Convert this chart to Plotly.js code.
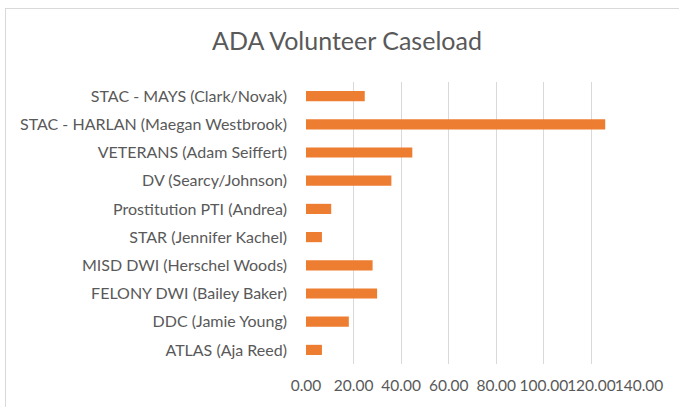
<!DOCTYPE html>
<html>
<head>
<meta charset="utf-8">
<script src="https://cdn.plot.ly/plotly-3.0.1.min.js"></script>
<style>
html,body{margin:0;padding:0;background:#fff;overflow:hidden;}
#frame{position:absolute;left:5px;top:8px;width:700px;height:420px;border:1px solid #d9d9d9;box-sizing:border-box;}
#chart{position:absolute;left:0;top:0;width:679px;height:407px;}
</style>
</head>
<body>
<div id="frame"></div>
<div id="chart"></div>
<script>
const categories = [
  "STAC - MAYS (Clark/Novak)",
  "STAC - HARLAN (Maegan Westbrook)",
  "VETERANS (Adam Seiffert)",
  "DV (Searcy/Johnson)",
  "Prostitution PTI (Andrea)",
  "STAR (Jennifer Kachel)",
  "MISD DWI (Herschel Woods)",
  "FELONY DWI (Bailey Baker)",
  "DDC (Jamie Young)",
  "ATLAS (Aja Reed)"
];
const caseload = [24.7, 125.8, 44.7, 35.9, 10.6, 6.7, 28, 29.9, 18, 6.7];
const tickValues = [0, 20, 40, 60, 80, 100, 120, 140];

const trace = {
  type: 'bar',
  orientation: 'h',
  x: caseload,
  y: categories,
  marker: {color: '#ED7D31'},
  hoverinfo: 'x+y'
};

const FONT = 'Lato, "Open Sans", sans-serif';

const layout = {
  width: 679,
  height: 407,
  paper_bgcolor: 'rgba(0,0,0,0)',
  plot_bgcolor: 'rgba(0,0,0,0)',
  margin: {l: 306, r: 40, t: 82, b: 43},
  title: {
    text: 'ADA Volunteer Caseload',
    font: {family: FONT, size: 25, color: '#595959'},
    xref: 'container', x: 347/679, xanchor: 'center',
    yref: 'container', y: 1 - 41/407, yanchor: 'middle'
  },
  bargap: 0.64,
  showlegend: false,
  xaxis: {
    range: [0, 140],
    tickvals: tickValues,
    ticktext: tickValues.map(v => v.toFixed(2)),
    tickangle: 0,
    showgrid: true,
    gridcolor: '#d9d9d9',
    gridwidth: 1,
    zeroline: false,
    showline: false,
    ticks: '',
    ticklabelstandoff: 10,
    tickfont: {family: FONT, size: 15.5, color: '#595959'},
    fixedrange: true
  },
  yaxis: {
    autorange: 'reversed',
    type: 'category',
    showgrid: false,
    zeroline: false,
    showline: false,
    ticks: '',
    ticklabelstandoff: 18,
    tickfont: {family: FONT, size: 16, color: '#595959'},
    fixedrange: true
  }
};

Plotly.newPlot('chart', [trace], layout, {displayModeBar: false, staticPlot: true});
</script>
</body>
</html>
